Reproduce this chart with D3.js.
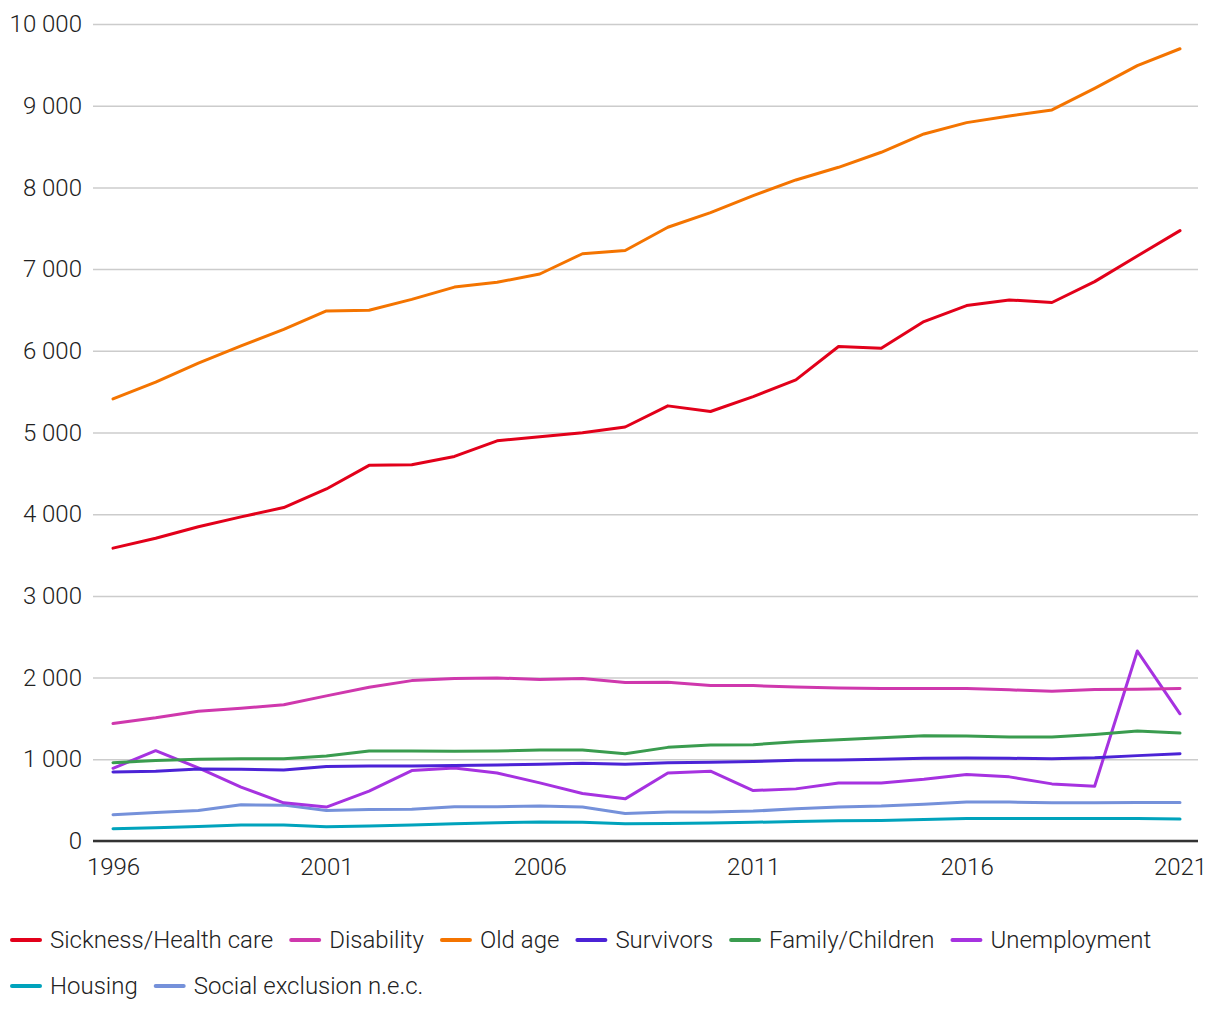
<!DOCTYPE html>
<html>
<head>
<meta charset="utf-8">
<script src="https://cdn.jsdelivr.net/npm/d3@7"></script>
<style>
  body { margin: 0; background: #fff; }
  svg text { font-family: Roboto, "Noto Sans", sans-serif; font-weight: 300; fill: #222; }
</style>
</head>
<body>
<svg id="chart" width="1220" height="1020"></svg>
<script>
const years = d3.range(1996, 2022)

const sickness = [3585, 3705, 3846, 3967, 4081, 4309, 4598, 4606, 4707, 4898, 4948, 4998, 5067, 5326, 5257, 5440, 5644, 6052, 6032, 6358, 6554, 6623, 6591, 6847, 7161, 7471]
const disability = [1439, 1508, 1589, 1626, 1667, 1776, 1882, 1963, 1988, 1996, 1976, 1988, 1940, 1943, 1902, 1902, 1886, 1874, 1866, 1866, 1866, 1850, 1833, 1854, 1858, 1866]
const oldAge = [5411, 5616, 5848, 6060, 6263, 6488, 6497, 6630, 6780, 6838, 6940, 7188, 7227, 7512, 7692, 7900, 8091, 8246, 8430, 8654, 8793, 8874, 8948, 9213, 9490, 9697]
const survivors = [846, 854, 882, 878, 870, 911, 919, 919, 923, 931, 939, 951, 939, 959, 963, 972, 988, 992, 1000, 1012, 1016, 1012, 1008, 1020, 1045, 1069]
const family = [959, 984, 1000, 1008, 1008, 1041, 1102, 1102, 1098, 1102, 1114, 1114, 1069, 1146, 1175, 1179, 1215, 1240, 1264, 1289, 1285, 1272, 1272, 1305, 1346, 1321]
const unemployment = [890, 1106, 895, 659, 467, 415, 610, 862, 894, 833, 711, 581, 516, 833, 854, 618, 638, 711, 711, 756, 813, 785, 699, 671, 2325, 1557]
const housing = [150, 163, 179, 195, 195, 175, 183, 195, 211, 224, 232, 228, 211, 215, 220, 228, 240, 248, 252, 264, 276, 276, 276, 276, 276, 268]
const socialExclusion = [321, 350, 374, 443, 439, 374, 386, 390, 419, 419, 427, 415, 337, 354, 354, 366, 394, 415, 427, 451, 476, 476, 467, 467, 472, 472]

const yTicks = d3.range(0, 10001, 1000)
const xTicks = [1996, 2001, 2006, 2011, 2016, 2021]

const series = [
  {name: 'Sickness/Health care', values: sickness, color: '#e2001a'},
  {name: 'Disability', values: disability, color: '#cf38ad'},
  {name: 'Old age', values: oldAge, color: '#f47400'},
  {name: 'Survivors', values: survivors, color: '#4b23d6'},
  {name: 'Family/Children', values: family, color: '#3a9c4f'},
  {name: 'Unemployment', values: unemployment, color: '#a632e0'},
  {name: 'Housing', values: housing, color: '#00a3bc'},
  {name: 'Social exclusion n.e.c.', values: socialExclusion, color: '#7591da'}
]

const svg = d3.select('#chart')

const x = d3.scaleLinear().domain([1996, 2021]).range([113, 1180])
const y = d3.scaleLinear().domain([0, 10000]).range([841, 24])
const fmt = (v) => d3.format(',')(v).replace(/,/g, ' ')

// gridlines + y labels
svg.append('g')
  .attr('transform', 'translate(93,0)')
  .call(d3.axisLeft(y).tickValues(yTicks).tickSize(-1105).tickFormat(fmt))
  .call((g) => g.select('.domain').remove())
  .call((g) => g.selectAll('.tick line')
    .attr('stroke', '#cccccc')
    .attr('stroke-width', 1.5))
  .call((g) => g.selectAll('.tick text')
    .attr('x', -11)
    .style('font-size', '24px')
    .style('font-family', 'Roboto, sans-serif'))

// baseline
svg.append('line')
  .attr('x1', 93).attr('x2', 1198)
  .attr('y1', y(0)).attr('y2', y(0))
  .attr('stroke', '#333')
  .attr('stroke-width', 2.5)

// x labels
svg.append('g')
  .attr('transform', `translate(0,${y(0)})`)
  .call(d3.axisBottom(x).tickValues(xTicks).tickSize(0).tickPadding(17).tickFormat(d3.format('d')))
  .call((g) => g.select('.domain').remove())
  .call((g) => g.selectAll('.tick text')
    .style('font-size', '24px')
    .style('font-family', 'Roboto, sans-serif'))

const line = d3.line()
  .x((d, i) => x(years[i]))
  .y((d) => y(d))

svg.append('g')
  .selectAll('path')
  .data(series.slice().reverse())
  .enter()
  .append('path')
  .attr('d', (d) => line(d.values))
  .attr('fill', 'none')
  .attr('stroke', (d) => d.color)
  .attr('stroke-width', 3)
  .attr('stroke-linejoin', 'round')
  .attr('stroke-linecap', 'round')

// legend, flowing left to right and wrapping
const legend = svg.append('g')
let lx = 12
let ly = 940
series.forEach((s) => {
  const item = legend.append('g')
  item.append('line')
    .attr('x1', 0).attr('x2', 28)
    .attr('stroke', s.color)
    .attr('stroke-width', 4)
    .attr('stroke-linecap', 'round')
  const t = item.append('text')
    .attr('x', 38)
    .attr('dy', '0.35em')
    .style('font-size', '24px')
    .text(s.name)
  const w = 38 + t.node().getComputedTextLength()
  if (lx + w > 1200) {
    lx = 12
    ly += 46
  }
  item.attr('transform', `translate(${lx},${ly})`)
  lx += w + 18
})
</script>
</body>
</html>
